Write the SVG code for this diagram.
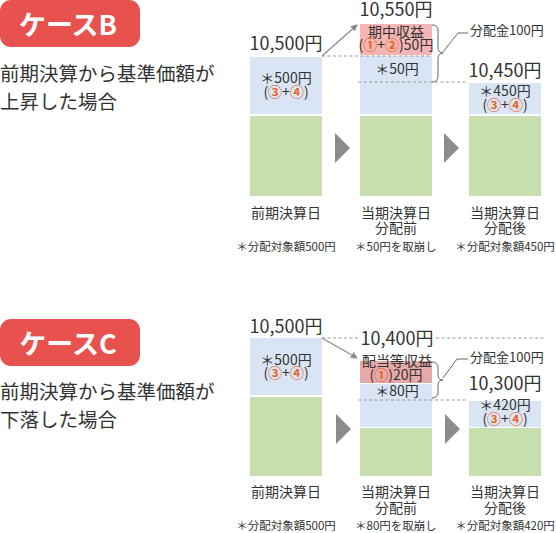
<svg xmlns="http://www.w3.org/2000/svg" width="556" height="533" viewBox="0 0 556 533">
<style>
text{font-family:"Noto Sans CJK JP","Noto Sans",sans-serif;fill:#333}
.badge{fill:#E8524E}
.bt{font-size:27px;font-weight:bold;fill:#fff}
.desc{font-size:19.5px}
.val{font-size:18px;text-anchor:middle}
.in{font-size:14px;text-anchor:middle}
.lab{font-size:14px;text-anchor:middle}
.note{font-size:11.5px;text-anchor:middle}
.blue{fill:#D9E5F4}
.green{fill:#C7DFAF}
.o{fill:#E8641E;font-weight:bold}
.dash{stroke:#999;stroke-width:1.2;stroke-dasharray:3 2.5;fill:none}
.arr{stroke:#8C8C8C;stroke-width:1.3;fill:none}
.brace{stroke:#666;stroke-width:1;fill:none}
.tri{fill:#8C8C8C}
</style>
<defs>
<marker id="ah" markerWidth="8" markerHeight="8" refX="6" refY="4" orient="auto" markerUnits="userSpaceOnUse">
<path d="M0,0.5 L7,4 L0,7.5 Z" fill="#8C8C8C"/>
</marker>
</defs>

<!-- Case B -->
<g id="badgeB">
<rect class="badge" x="0" y="0" width="140" height="47" rx="11"/>
<text class="bt" x="68" y="35" text-anchor="middle">ケースB</text>
</g>
<g id="descB">
<text class="desc" x="0" y="81">前期決算から基準価額が</text>
<text class="desc" x="0" y="109">上昇した場合</text>
</g>
<g id="barB1">
<rect class="blue" x="250" y="57" width="72" height="57"/>
<rect class="green" x="250" y="116" width="72" height="80"/>
<text class="val" x="286" y="50">10,500円</text>
<text class="in" x="286" y="83">＊500円</text>
<text class="in" x="286" y="97">(<tspan class="o">③</tspan>+<tspan class="o">④</tspan>)</text>
<text class="lab" x="286" y="218">前期決算日</text>
<text class="note" x="286" y="251">＊分配対象額500円</text>
</g>
<g id="barB2">
<rect fill="#F4B5B4" x="360" y="24" width="72" height="31"/>
<rect class="blue" x="360" y="56" width="72" height="58"/>
<rect class="green" x="360" y="116" width="72" height="80"/>
<text class="val" x="396" y="16">10,550円</text>
<text class="in" x="396" y="37">期中収益</text>
<text class="in" x="396" y="50">(<tspan class="o">①</tspan>+<tspan class="o">②</tspan>)50円</text>
<text class="in" x="397" y="74">＊50円</text>
<text class="lab" x="396" y="218">当期決算日</text>
<text class="lab" x="396" y="233">分配前</text>
<text class="note" x="396" y="251">＊50円を取崩し</text>
</g>
<g id="barB3">
<rect class="blue" x="469" y="83" width="72" height="31"/>
<rect class="green" x="469" y="116" width="72" height="80"/>
<text class="val" x="505" y="77">10,450円</text>
<text class="in" x="505" y="96">＊450円</text>
<text class="in" x="505" y="110">(<tspan class="o">③</tspan>+<tspan class="o">④</tspan>)</text>
<text class="lab" x="505" y="218">当期決算日</text>
<text class="lab" x="505" y="233">分配後</text>
<text class="note" x="505" y="251">＊分配対象額450円</text>
</g>
<g id="labelB">
<text x="470" y="35" style="font-size:13px">分配金100円</text>
</g>

<!-- Case C -->
<g id="badgeC">
<rect class="badge" x="0" y="319" width="140" height="47" rx="11"/>
<text class="bt" x="68" y="354" text-anchor="middle">ケースC</text>
</g>
<g id="descC">
<text class="desc" x="0" y="399">前期決算から基準価額が</text>
<text class="desc" x="0" y="427">下落した場合</text>
</g>
<g id="barC1">
<rect class="blue" x="250" y="338" width="72" height="57"/>
<rect class="green" x="250" y="397" width="72" height="79"/>
<text class="val" x="286" y="333">10,500円</text>
<text class="in" x="286" y="365">＊500円</text>
<text class="in" x="286" y="378">(<tspan class="o">③</tspan>+<tspan class="o">④</tspan>)</text>
<text class="lab" x="286" y="497">前期決算日</text>
<text class="note" x="286" y="530">＊分配対象額500円</text>
</g>
<g id="barC2">
<rect fill="#E6A9A9" x="360" y="361" width="72" height="22"/>
<rect class="blue" x="360" y="384" width="72" height="43"/>
<rect class="green" x="360" y="428" width="72" height="48"/>
<text class="val" x="397" y="345">10,400円</text>
<text class="in" x="397" y="366">配当等収益</text>
<text class="in" x="396" y="380">(<tspan class="o">①</tspan>)20円</text>
<text class="in" x="397" y="396">＊80円</text>
<text class="lab" x="396" y="497">当期決算日</text>
<text class="lab" x="396" y="513">分配前</text>
<text class="note" x="396" y="530">＊80円を取崩し</text>
</g>
<g id="barC3">
<rect class="blue" x="469" y="401" width="72" height="26"/>
<rect class="green" x="469" y="428" width="72" height="48"/>
<text class="val" x="505" y="390">10,300円</text>
<text class="in" x="505" y="410">＊420円</text>
<text class="in" x="505" y="424">(<tspan class="o">③</tspan>+<tspan class="o">④</tspan>)</text>
<text class="lab" x="505" y="497">当期決算日</text>
<text class="lab" x="505" y="513">分配後</text>
<text class="note" x="505" y="530">＊分配対象額420円</text>
</g>
<g id="labelC">
<text x="470" y="362" style="font-size:13px">分配金100円</text>
</g>

<g id="connectors">
<!-- Case B -->
<path class="dash" d="M322,56 H432"/>
<path class="dash" d="M358,82 H468"/>
<path class="arr" d="M322,56 L357,25" marker-end="url(#ah)"/>
<path class="brace" d="M432,25 Q438,25 438,31 V47 Q438,53 443,53 Q438,53 438,59 V76 Q438,82 432,82"/>
<path class="brace" d="M443,52 L458,33 H468"/>
<polygon class="tri" points="335,133 350,148 335,163"/>
<polygon class="tri" points="444,133 459,148 444,163"/>
<!-- Case C -->
<path class="dash" d="M322,338 H358"/>
<path class="dash" d="M436,338 H546"/>
<path class="dash" d="M358,400 H468"/>
<path class="arr" d="M322,338 L357,358" marker-end="url(#ah)"/>
<path class="brace" d="M432,362 Q438,362 438,368 V375 Q438,380 443,380 Q438,380 438,385 V392 Q438,398 432,398"/>
<path class="brace" d="M443,378 L457,359 H468"/>
<polygon class="tri" points="336,414 351,429 336,444"/>
<polygon class="tri" points="445,414 460,429 445,444"/>
</g>
</svg>
